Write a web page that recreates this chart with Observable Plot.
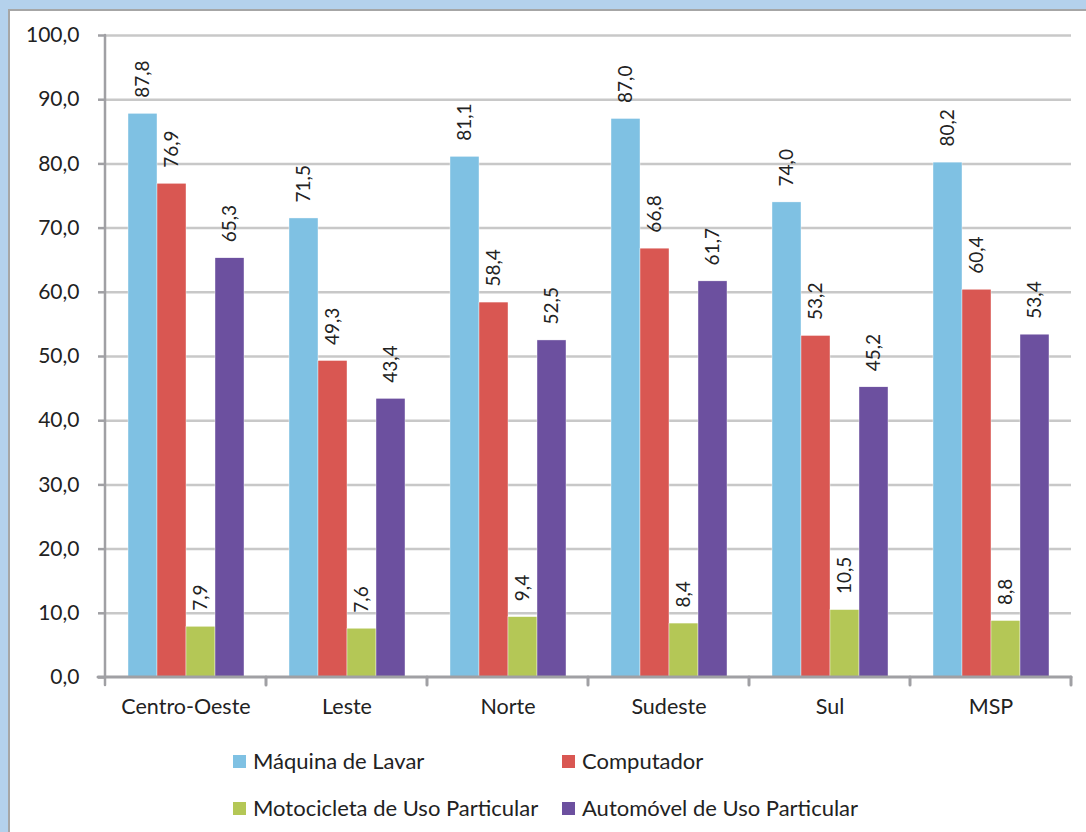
<!DOCTYPE html>
<html>
<head>
<meta charset="utf-8">
<script src="https://cdn.jsdelivr.net/npm/d3@7"></script>
<script src="https://cdn.jsdelivr.net/npm/@observablehq/plot@0.6"></script>
<style>
  html, body { margin: 0; padding: 0; }
  body { width: 1086px; height: 832px; background: #b4d1ec; position: relative; overflow: hidden; font-family: Lato, "Open Sans", sans-serif; }
  #panel { position: absolute; left: 8px; top: 9px; width: 1100px; height: 900px; background: #fff; border: 2px solid #a6a6a6; box-sizing: border-box; }
  #chart { position: absolute; left: 0; top: 0; }
  .leg { position: absolute; display: flex; align-items: center; font-size: 22px; color: #222; white-space: nowrap; line-height: 28px; }
  .leg span.sw { display: inline-block; width: 13px; height: 13px; margin-right: 7px; }
</style>
</head>
<body>
<div id="panel"></div>
<div id="chart"></div>
<div id="legend"></div>
<script>
const regions = ["Centro-Oeste", "Leste", "Norte", "Sudeste", "Sul", "MSP"];
const series = ["Máquina de Lavar", "Computador", "Motocicleta de Uso Particular", "Automóvel de Uso Particular"];
const colors = ["#7fc1e3", "#d95752", "#b4c756", "#6c509f"];
const maquina = [87.8, 71.5, 81.1, 87.0, 74.0, 80.2];
const computador = [76.9, 49.3, 58.4, 66.8, 53.2, 60.4];
const motocicleta = [7.9, 7.6, 9.4, 8.4, 10.5, 8.8];
const automovel = [65.3, 43.4, 52.5, 61.7, 45.2, 53.4];
const yTicks = [0, 10, 20, 30, 40, 50, 60, 70, 80, 90, 100];

const valuesBySeries = [maquina, computador, motocicleta, automovel];
const data = [];
regions.forEach((r, i) => series.forEach((s, j) => data.push({region: r, series: s, value: valuesBySeries[j][i]})));

const fmt = v => d3.format(".1f")(v).replace(".", ",");
const FONT = "Lato, 'Open Sans', sans-serif";

const plot = Plot.plot({
  width: 1086,
  height: 720,
  marginLeft: 103,
  marginRight: 14,
  marginTop: 35,
  marginBottom: 43,
  style: {fontFamily: FONT, color: "#222", background: "transparent", overflow: "visible"},
  fx: {domain: regions, padding: 0},
  x: {domain: series, paddingInner: 0, paddingOuter: 0.737, axis: null},
  y: {domain: [0, 100], ticks: yTicks},
  color: {domain: series, range: colors},
  marks: [
    Plot.ruleY(yTicks.slice(1), {stroke: "#c8c8c8", strokeWidth: 2.5}),
    Plot.axisY(yTicks, {tickSize: 7, tickPadding: 19, tickFormat: fmt, fontSize: 21, stroke: "#a0a0a4", strokeWidth: 2.5, label: null, fill: "#222"}),
    Plot.axisFx({anchor: "bottom", tickSize: 0, tickPadding: 21, fontSize: 21.5, label: null, fill: "#222"}),
    Plot.barY(data, {fx: "region", x: "series", y: "value", fill: "series", stroke: "#fff", strokeWidth: 0.4}),
    Plot.text(data, {fx: "region", x: "series", y: "value", text: d => fmt(d.value), rotate: -90, textAnchor: "start", lineAnchor: "middle", dy: -16, fontSize: 19, fill: "#222"})
  ]
});

// axis lines and category boundary ticks built from the plot's own scales
const svg = d3.select(plot);
const fx = plot.scale("fx");
const y = plot.scale("y");
const y0 = y.apply(0), y100 = y.apply(100);
const bandStep = fx.step;
const edges = fx.domain.map(d => fx.apply(d)).concat([fx.apply(fx.domain[fx.domain.length - 1]) + bandStep]);
const g = svg.append("g").attr("stroke", "#a0a0a4").attr("stroke-width", 3).attr("stroke-linecap", "round");
const left = edges[0], right = edges[edges.length - 1];
g.append("line").attr("x1", left).attr("x2", left).attr("y1", y100).attr("y2", y0 + 8).attr("stroke-width", 2.5);
g.append("line").attr("x1", left - 7).attr("x2", right).attr("y1", y0).attr("y2", y0);
edges.slice(1).forEach(e => g.append("line").attr("x1", e).attr("x2", e).attr("y1", y0).attr("y2", y0 + 8));

document.getElementById("chart").appendChild(plot);

// legend
const legPos = [[233, 761], [562, 761], [233, 808], [562, 808]];
const legend = document.getElementById("legend");
series.forEach((s, i) => {
  const d = document.createElement("div");
  d.className = "leg";
  d.style.left = legPos[i][0] + "px";
  d.style.top = (legPos[i][1] - 14) + "px";
  d.innerHTML = `<span class="sw" style="background:${colors[i]}"></span><span>${s}</span>`;
  legend.appendChild(d);
});
</script>
</body>
</html>
